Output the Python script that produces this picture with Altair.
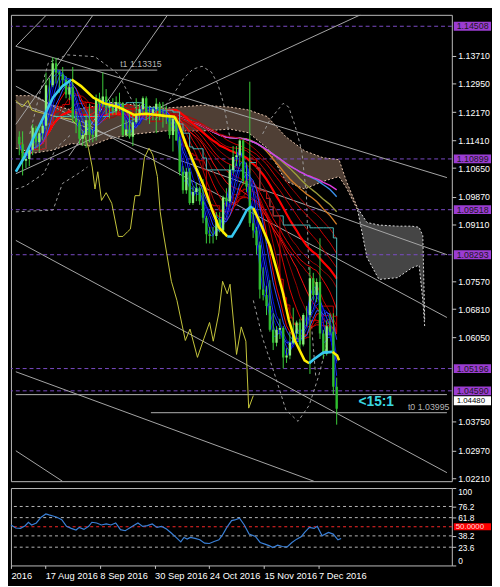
import altair as alt
import pandas as pd

FONT = "Liberation Sans"
W, H, OH = 450, 476, 79

# ---------------- daily EURUSD bars ----------------
dates = ["04 Aug", "05 Aug", "08 Aug", "09 Aug", "10 Aug", "11 Aug", "12 Aug", "15 Aug", "16 Aug", "17 Aug",
         "18 Aug", "19 Aug", "22 Aug", "23 Aug", "24 Aug", "25 Aug", "26 Aug", "29 Aug", "30 Aug", "31 Aug",
         "01 Sep", "02 Sep", "05 Sep", "06 Sep", "07 Sep", "08 Sep", "09 Sep", "12 Sep", "13 Sep", "14 Sep",
         "15 Sep", "16 Sep", "19 Sep", "20 Sep", "21 Sep", "22 Sep", "23 Sep", "26 Sep", "27 Sep", "28 Sep",
         "29 Sep", "30 Sep", "03 Oct", "04 Oct", "05 Oct", "06 Oct", "07 Oct", "10 Oct", "11 Oct", "12 Oct",
         "13 Oct", "14 Oct", "17 Oct", "18 Oct", "19 Oct", "20 Oct", "21 Oct", "24 Oct", "25 Oct", "26 Oct",
         "27 Oct", "28 Oct", "31 Oct", "01 Nov", "02 Nov", "03 Nov", "04 Nov", "07 Nov", "08 Nov", "09 Nov",
         "10 Nov", "11 Nov", "14 Nov", "15 Nov", "16 Nov", "17 Nov", "18 Nov", "21 Nov", "22 Nov", "23 Nov",
         "24 Nov", "25 Nov", "28 Nov", "29 Nov", "30 Nov", "01 Dec", "02 Dec", "05 Dec", "06 Dec", "07 Dec",
         "08 Dec", "09 Dec", "12 Dec", "13 Dec", "14 Dec", "15 Dec"]
opens = [1.1150, 1.1130, 1.1085, 1.1090, 1.1115, 1.1175, 1.1135, 1.1160, 1.1180, 1.1290,
         1.1290, 1.1350, 1.1325, 1.1320, 1.1305, 1.1265, 1.1285, 1.1200, 1.1190, 1.1145,
         1.1155, 1.1195, 1.1155, 1.1150, 1.1255, 1.1240, 1.1260, 1.1230, 1.1235, 1.1220,
         1.1245, 1.1240, 1.1155, 1.1170, 1.1150, 1.1190, 1.1210, 1.1225, 1.1255, 1.1215,
         1.1215, 1.1225, 1.1240, 1.1210, 1.1205, 1.1205, 1.1155, 1.1200, 1.1140, 1.1055,
         1.1005, 1.1055, 1.0970, 1.1000, 1.1010, 1.0975, 1.0930, 1.0885, 1.0880, 1.0880,
         1.0925, 1.0895, 1.0985, 1.0975, 1.1060, 1.1095, 1.1100, 1.1140, 1.1030, 1.1015,
         1.0915, 1.0895, 1.0855, 1.0735, 1.0720, 1.0690, 1.0625, 1.0590, 1.0625, 1.0630,
         1.0550, 1.0555, 1.0590, 1.0615, 1.0645, 1.0585, 1.0665, 1.0665, 1.0765, 1.0720,
         1.0755, 1.0615, 1.0560, 1.0635, 1.0620, 1.0470]
highs = [1.1165, 1.1165, 1.1110, 1.1125, 1.1185, 1.1180, 1.1170, 1.1190, 1.1325, 1.1310,
         1.1366, 1.1365, 1.1330, 1.1340, 1.1315, 1.1300, 1.1340, 1.1220, 1.1195, 1.1165,
         1.1210, 1.1240, 1.1170, 1.1265, 1.1270, 1.1325, 1.1280, 1.1250, 1.1255, 1.1260,
         1.1270, 1.1245, 1.1195, 1.1215, 1.1215, 1.1255, 1.1240, 1.1260, 1.1260, 1.1235,
         1.1230, 1.1255, 1.1245, 1.1245, 1.1235, 1.1210, 1.1200, 1.1205, 1.1150, 1.1070,
         1.1065, 1.1065, 1.1015, 1.1025, 1.1015, 1.1035, 1.0935, 1.0905, 1.0905, 1.0945,
         1.0945, 1.0990, 1.1010, 1.1075, 1.1125, 1.1125, 1.1145, 1.1145, 1.1080, 1.1300,
         1.0955, 1.0905, 1.0865, 1.0795, 1.0745, 1.0760, 1.0670, 1.0635, 1.0655, 1.0635,
         1.0575, 1.0620, 1.0685, 1.0650, 1.0655, 1.0670, 1.0690, 1.0795, 1.0780, 1.0765,
         1.0874, 1.0625, 1.0650, 1.0670, 1.0670, 1.0495]
lows = [1.1100, 1.1045, 1.1065, 1.1070, 1.1100, 1.1120, 1.1110, 1.1140, 1.1170, 1.1245,
        1.1285, 1.1295, 1.1270, 1.1285, 1.1255, 1.1250, 1.1190, 1.1160, 1.1130, 1.1125,
        1.1120, 1.1135, 1.1135, 1.1140, 1.1220, 1.1230, 1.1210, 1.1200, 1.1210, 1.1210,
        1.1220, 1.1150, 1.1150, 1.1145, 1.1125, 1.1185, 1.1195, 1.1210, 1.1195, 1.1185,
        1.1195, 1.1160, 1.1195, 1.1175, 1.1185, 1.1145, 1.1110, 1.1140, 1.1045, 1.0995,
        1.0995, 1.0965, 1.0965, 1.0975, 1.0965, 1.0915, 1.0860, 1.0860, 1.0860, 1.0870,
        1.0890, 1.0885, 1.0960, 1.0970, 1.1050, 1.1070, 1.1070, 1.1020, 1.1000, 1.0905,
        1.0875, 1.0830, 1.0710, 1.0705, 1.0665, 1.0620, 1.0570, 1.0580, 1.0600, 1.0520,
        1.0535, 1.0545, 1.0585, 1.0600, 1.0570, 1.0580, 1.0635, 1.0505, 1.0705, 1.0700,
        1.0600, 1.0545, 1.0555, 1.0610, 1.0450, 1.0367]
closes = [1.1130, 1.1085, 1.1090, 1.1115, 1.1175, 1.1135, 1.1160, 1.1180, 1.1290, 1.1290,
          1.1350, 1.1325, 1.1320, 1.1305, 1.1265, 1.1285, 1.1200, 1.1190, 1.1145, 1.1155,
          1.1195, 1.1155, 1.1150, 1.1255, 1.1240, 1.1260, 1.1230, 1.1235, 1.1220, 1.1245,
          1.1240, 1.1155, 1.1170, 1.1150, 1.1190, 1.1210, 1.1225, 1.1255, 1.1215, 1.1215,
          1.1225, 1.1240, 1.1210, 1.1205, 1.1205, 1.1155, 1.1200, 1.1140, 1.1055, 1.1005,
          1.1055, 1.0970, 1.1000, 1.1010, 1.0975, 1.0930, 1.0885, 1.0880, 1.0880, 1.0925,
          1.0895, 1.0985, 1.0975, 1.1060, 1.1095, 1.1100, 1.1140, 1.1030, 1.1015, 1.0915,
          1.0895, 1.0855, 1.0735, 1.0720, 1.0690, 1.0625, 1.0590, 1.0625, 1.0630, 1.0550,
          1.0555, 1.0590, 1.0615, 1.0645, 1.0585, 1.0665, 1.0665, 1.0765, 1.0720, 1.0755,
          1.0615, 1.0560, 1.0635, 1.0620, 1.0470, 1.0410]
FIRST_BAR = 7  # bar index of 04 Aug 2016 (17 Aug 2016 is bar 16)

# ---------------- scales / ticks ----------------
x_domain = [5.97, 135.0]
price_domain = [1.02132, 1.14819]
price_ticks = [1.13710, 1.12950, 1.12170, 1.11410, 1.10650, 1.09870, 1.09110,
               1.07570, 1.06810, 1.06050, 1.03750, 1.02970, 1.02210]
time_tick_bars = [16, 32, 48, 64, 80, 96]
time_tick_labels = ["17 Aug 2016", "8 Sep 2016", "30 Sep 2016", "24 Oct 2016", "15 Nov 2016", "7 Dec 2016"]

# ---------------- marked price levels ----------------
level_prices = [1.14508, 1.10899, 1.09518, 1.08293, 1.05196, 1.04590]
level_labels = ["1.14508", "1.10899", "1.09518", "1.08293", "1.05196", "1.04590"]
white_level_price = [1.04320]
white_level_label = ["1.04480"]

hline_price = [1.13315, 1.03995, 1.04487]
hline_start = [5.97, 46.4, 5.97]
hline_end = [48.3, 135.0, 135.0]

trend_x1 = [5.97, 5.97, 21.86, 5.97, 5.97, 5.97, 5.97, 5.97, 5.97, 5.97]
trend_y1 = [1.13964, 1.11841, 1.10977, 1.10495, 1.13964, 1.12437, 1.12877, 1.08682, 1.05109, 1.02960]
trend_x2 = [15.17, 29.11, 51.41, 109.11, 135.0, 135.0, 135.0, 135.0, 95.17, 19.91]
trend_y2 = [1.14819, 1.14819, 1.14819, 1.14819, 1.10391, 1.08294, 1.06585, 1.02364, 1.02131, 1.02131]

# ---------------- Ichimoku cloud ----------------
cloud1_bar = [5.97, 11.54, 17.12, 22.69, 28.27, 33.84, 42.21, 50.57, 61.72, 70.08, 75.66, 81.23,
              86.81, 92.38, 97.96, 102.70, 104.93, 108.27]
cloud1_top = [1.1262, 1.1262, 1.1236, 1.1223, 1.1231, 1.1244, 1.1236, 1.1228, 1.1236, 1.1231, 1.1223, 1.1205,
              1.1150, 1.1112, 1.1093, 1.1088, 1.1029, 1.0956]
cloud1_bot = [1.1119, 1.1106, 1.1114, 1.1132, 1.1125, 1.1145, 1.1158, 1.1166, 1.1166, 1.1171, 1.1161, 1.1119,
              1.1029, 1.1008, 1.1029, 1.1042, 1.1011, 1.0951]
cloud2_bar = [108.27, 111.06, 114.68, 120.26, 124.44, 126.67, 127.78, 128.34]
cloud2_top = [1.0956, 1.0917, 1.0910, 1.0907, 1.0907, 1.0904, 1.0881, 1.0653]
cloud2_bot = [1.0951, 1.0822, 1.0762, 1.0767, 1.0793, 1.0801, 1.0705, 1.0635]

# ---------------- dashed envelope curves ----------------
env1_bar = [10.15, 12.94, 15.73, 21.30, 29.66, 36.63, 42.21]
env1_price = [1.1158, 1.1262, 1.1352, 1.1373, 1.1368, 1.1321, 1.1223]
env2_bar = [47.78, 52.52, 56.14, 58.93, 61.72, 64.51, 66.46, 68.13, 70.08]
env2_price = [1.1197, 1.1257, 1.1308, 1.1334, 1.1342, 1.1326, 1.1293, 1.1241, 1.1145]
env3_bar = [79.84, 82.07, 85.97, 87.64, 89.60, 91.55, 92.94, 93.50, 94.33, 95.73]
env3_price = [1.1158, 1.1197, 1.1241, 1.1231, 1.1179, 1.1112, 1.0990, 1.0835, 1.0653, 1.0498]
env4_bar = [77.05, 79.84, 83.18, 86.81, 90.43, 93.78, 96.56, 98.79, 100.19]
env4_price = [1.0705, 1.0602, 1.0511, 1.0407, 1.0376, 1.0420, 1.0498, 1.0576, 1.0653]
env5_bar = [5.97, 8.76, 14.33, 17.96, 22.69]
env5_price = [1.1008, 1.1016, 1.1050, 1.1119, 1.1158]
env6_bar = [5.97, 17.12, 19.91, 24.65, 27.43]
env6_price = [1.0946, 1.0951, 1.1023, 1.1050, 1.1068]

# ---------------- thin yellow indicator ----------------
thin_bar = [5.97, 7.92, 9.59, 10.71, 12.38, 17.96, 22.69, 26.32, 27.71, 28.83, 29.66, 30.50, 31.61, 33.01,
            34.68, 36.63, 38.03, 39.42, 40.26, 41.65, 43.04, 44.44, 45.83, 46.95, 48.34, 49.18, 50.01,
            52.52, 54.19, 56.70, 58.10, 60.33, 62.28, 63.95, 65.06, 66.74, 67.85, 69.25, 70.08, 72.03,
            73.43, 74.82, 75.66, 77.05]
thin_price = [1.1249, 1.1231, 1.1249, 1.1223, 1.1218, 1.1205, 1.1197, 1.1163, 1.1119, 1.1068, 1.1008,
              1.1055, 1.0977, 1.0998, 1.0969, 1.0879, 1.0879, 1.0892, 1.0899, 1.0990, 1.0990, 1.1093,
              1.1119, 1.1101, 1.1042, 1.0946, 1.0894, 1.0757, 1.0705, 1.0596, 1.0627, 1.0550, 1.0602,
              1.0645, 1.0594, 1.0671, 1.0757, 1.0723, 1.0749, 1.0558, 1.0633, 1.0594, 1.0412, 1.0446]

# ---------------- thick colour-changing smoothed line ----------------
cyan1_bar = [5.97, 8.76, 11.54, 14.33, 17.12, 19.91, 22.69]
cyan1_price = [1.1055, 1.1099, 1.1153, 1.1205, 1.1257, 1.1288, 1.1306]
yel1_bar = [22.69, 25.48, 29.11, 32.45, 36.63, 41.37, 45.00, 47.78, 50.57, 53.36, 54.75, 56.98, 59.77,
            62.28, 64.51, 66.74, 69.25]
yel1_price = [1.1306, 1.1288, 1.1257, 1.1241, 1.1231, 1.1210, 1.1213, 1.1210, 1.1207, 1.1205, 1.1184,
              1.1127, 1.1068, 1.1016, 1.0956, 1.0904, 1.0879]
cyan2_bar = [69.25, 70.64, 72.87, 75.10, 76.21, 77.05]
cyan2_price = [1.0879, 1.0879, 1.0912, 1.0951, 1.0959, 1.0956]
yel2_bar = [77.05, 79.28, 82.07, 84.02, 85.97, 87.64, 89.60, 92.38, 93.78]
yel2_price = [1.0956, 1.0912, 1.0853, 1.0790, 1.0723, 1.0653, 1.0594, 1.0542, 1.0534]
cyan3_bar = [93.78, 95.17, 97.96, 100.75]
cyan3_price = [1.0534, 1.0545, 1.0563, 1.0565]
yel3_bar = [100.75, 102.14, 102.70]
yel3_price = [1.0565, 1.0555, 1.0542]

# ---------------- oscillator ----------------
osc_bar = [5.97, 7.36, 8.76, 10.15, 11.08, 12.01, 13.40, 14.80, 16.19, 17.12, 18.51, 19.44, 20.84, 22.23,
           23.62, 25.02, 25.95, 27.34, 28.73, 29.66, 31.06, 32.45, 33.84, 35.24, 36.63, 38.03, 39.42,
           41.28, 43.14, 44.53, 45.92, 47.32, 48.71, 50.10, 51.50, 52.89, 54.29, 55.68, 56.61, 57.54,
           58.47, 59.86, 61.25, 62.65, 64.04, 65.44, 66.83, 67.76, 69.15, 70.55, 71.48, 72.87, 74.26,
           75.66, 77.51, 78.91, 80.30, 81.70, 82.62, 84.02, 85.41, 86.81, 88.20, 89.59, 90.99, 91.92,
           93.31, 94.70, 95.63, 97.03, 97.96, 98.89, 100.28, 101.67, 102.60]
osc_value = [52.3, 48.4, 47.9, 51.4, 55.8, 52.3, 54.9, 62.3, 66.6, 65.3, 63.6, 62.3, 59.2, 50.5, 47.9,
             45.8, 49.2, 46.6, 50.5, 55.8, 54.9, 52.3, 53.6, 52.3, 54.9, 46.2, 44.9, 50.1, 54.9, 50.5,
             51.4, 53.6, 49.2, 50.5, 47.1, 41.9, 36.2, 30.5, 36.2, 34.0, 36.2, 34.9, 33.2, 28.8, 28.4,
             31.0, 33.2, 38.4, 49.2, 57.9, 58.8, 61.0, 52.3, 40.5, 37.5, 29.7, 27.5, 25.3, 23.2, 26.2,
             24.5, 24.0, 29.7, 34.0, 37.5, 42.7, 49.2, 47.9, 50.5, 38.4, 40.5, 42.7, 40.5, 33.2, 34.9]
osc_levels = [23.6, 38.2, 61.8, 76.2]
osc_ticks = [0, 23.6, 38.2, 61.8, 76.2, 100]

# ---------------- frames ----------------
candles = pd.DataFrame(dict(date=dates, open=opens, high=highs, low=lows, close=closes))
candles["bar"] = list(range(FIRST_BAR, FIRST_BAR + len(dates)))

cloud1 = pd.DataFrame(dict(bar=cloud1_bar, top=cloud1_top, bot=cloud1_bot))
cloud2 = pd.DataFrame(dict(bar=cloud2_bar, top=cloud2_top, bot=cloud2_bot))

env_rows = []
for i, (bs, ps) in enumerate([(env1_bar, env1_price), (env2_bar, env2_price), (env3_bar, env3_price),
                              (env4_bar, env4_price), (env5_bar, env5_price), (env6_bar, env6_price)]):
    for j, (b, p) in enumerate(zip(bs, ps)):
        env_rows.append(dict(curve=i, order=j, bar=b, price=p))
env_df = pd.DataFrame(env_rows)

thick_rows = []
for i, (kind, bs, ps) in enumerate([("cyan", cyan1_bar, cyan1_price), ("yellow", yel1_bar, yel1_price),
                                    ("cyan", cyan2_bar, cyan2_price), ("yellow", yel2_bar, yel2_price),
                                    ("cyan", cyan3_bar, cyan3_price), ("yellow", yel3_bar, yel3_price)]):
    for j, (b, p) in enumerate(zip(bs, ps)):
        thick_rows.append(dict(seg=i, kind=kind, order=j, bar=b, price=p))
thick_df = pd.DataFrame(thick_rows)

thin_df = pd.DataFrame(dict(bar=thin_bar, price=thin_price))
levels_df = pd.DataFrame(dict(price=level_prices, label=level_labels))
white_df = pd.DataFrame(dict(price=white_level_price, label=white_level_label))
hline_df = pd.DataFrame(dict(price=hline_price, start=hline_start, end=hline_end))
trend_df = pd.DataFrame(dict(x1=trend_x1, y1=trend_y1, x2=trend_x2, y2=trend_y2))
osc_df = pd.DataFrame(dict(bar=osc_bar, value=osc_value))

# ---------------- encodings ----------------
xs = alt.Scale(domain=x_domain, nice=False, zero=False)
ys = alt.Scale(domain=price_domain, nice=False, zero=False)
price_axis = alt.Axis(orient="right", values=price_ticks, format=".5f", labelColor="#ffffff", labelFont=FONT,
                      labelFontSize=9, tickColor="#c8c8c8", tickSize=4, domain=False, grid=False,
                      labelPadding=2, labelFlush=False, zindex=0, title=None)


def X(f):
    return alt.X(f, type="quantitative", scale=xs, axis=None)


def Y(f):
    return alt.Y(f, type="quantitative", scale=ys, axis=price_axis)


layers = []

# cloud
for cdf, fill, op, edge in [(cloud1, "#f0c0a0", 0.33, "#e8c8b0"), (cloud2, "#e6e6e6", 0.3, "#dddddd")]:
    layers.append(alt.Chart(cdf).mark_area(color=fill, opacity=op, clip=True).encode(
        x=X("bar"), y=Y("top"), y2=alt.Y2("bot")))
    for col in ["top", "bot"]:
        layers.append(alt.Chart(cdf).mark_line(color=edge, strokeDash=[2, 2], strokeWidth=1, clip=True).encode(
            x=X("bar"), y=Y(col)))

# purple dashed levels
layers.append(alt.Chart(levels_df).mark_rule(color="#7c4cc8", strokeDash=[4, 3], strokeWidth=1).encode(
    y=Y("price")))
# gray horizontal lines and trend lines
layers.append(alt.Chart(hline_df).mark_rule(color="#b4b4b4", strokeWidth=1, clip=True).encode(
    x=X("start"), x2=alt.X2("end"), y=Y("price")))
layers.append(alt.Chart(trend_df).mark_rule(color="#a8a8a8", strokeWidth=1, clip=True).encode(
    x=X("x1"), x2=alt.X2("x2"), y=Y("y1"), y2=alt.Y2("y2")))
# dashed envelopes
layers.append(alt.Chart(env_df).mark_line(color="#a0a0a0", strokeDash=[3, 3], strokeWidth=1, clip=True).encode(
    x=X("bar"), y=Y("price"), detail="curve:N", order="order:Q"))
# thin yellow line
layers.append(alt.Chart(thin_df).mark_line(color="#c8c83c", strokeWidth=1, clip=True).encode(
    x=X("bar"), y=Y("price")))

# moving averages computed from the closes
base = alt.Chart(candles)
sort_bar = [alt.SortField("bar")]


def ma_chart(periods, colors, width, prefix):
    ch = base
    names = []
    for p in periods:
        n = f"{prefix}{p}"
        names.append(n)
        ch = ch.transform_window(**{n: "mean(close)"}, frame=[-(p - 1), 0], sort=sort_bar)
    return ch.transform_fold(names, as_=["ma", "value"]).mark_line(strokeWidth=width, clip=True).encode(
        x=X("bar"), y=Y("value:Q"),
        color=alt.Color("ma:N", scale=alt.Scale(domain=names, range=colors), legend=None))


long_periods = [66, 74, 86, 100]
long_colors = ["#d07a24", "#9c9c3a", "#3a8ee8", "#e03ce0"]
layers.append(ma_chart(long_periods, long_colors, 1.4, "lg"))

red_periods = [9, 12, 15, 18, 21, 25, 29, 34, 40, 46, 52, 58]
red_colors = ["#ff0000", "#b00000", "#e00000", "#9a0000", "#ff1010", "#c00000",
              "#e80000", "#a00000", "#ff0000", "#c00000", "#d80000", "#a80000"]
layers.append(ma_chart(red_periods, red_colors, 1.0, "rd"))
layers.append(base.transform_window(rd40b="mean(close)", frame=[-39, 0], sort=sort_bar)
              .mark_line(color="#ff0000", strokeWidth=2.2, clip=True).encode(x=X("bar"), y=Y("rd40b:Q")))

# kijun (26) and tenkan (9)
layers.append(base.transform_window(hh="max(high)", ll="min(low)", frame=[-25, 0], sort=sort_bar)
              .transform_calculate(kijun="(datum.hh + datum.ll) / 2")
              .mark_line(color="#4cbcbc", strokeWidth=1, interpolate="step-after", clip=True)
              .encode(x=X("bar"), y=Y("kijun:Q")))
layers.append(base.transform_window(th="max(high)", tl="min(low)", frame=[-8, 0], sort=sort_bar)
              .transform_calculate(tenkan="(datum.th + datum.tl) / 2")
              .mark_line(color="#c80000", strokeWidth=1, interpolate="step-after", clip=True)
              .encode(x=X("bar"), y=Y("tenkan:Q")))

# short blue MAs
blue_periods = [2, 3, 4, 5, 6, 8]
blue_colors = ["#0000ff", "#1428ff", "#0000d0", "#2040ff", "#0010e0", "#3050ff"]
layers.append(ma_chart(blue_periods, blue_colors, 1.0, "bl"))

# candles
layers.append(base.mark_rule(color="#3ccf3c", strokeWidth=1, clip=True).encode(
    x=X("bar"), y=Y("low:Q"), y2=alt.Y2("high")))
layers.append(base.mark_bar(size=2.4, clip=True).encode(
    x=X("bar"), y=Y("open:Q"), y2=alt.Y2("close"),
    color=alt.condition("datum.close >= datum.open", alt.value("#8af07a"), alt.value("#2fbf2f"))))

# thick smoothed line
layers.append(alt.Chart(thick_df).mark_line(strokeWidth=2.6, clip=True).encode(
    x=X("bar"), y=Y("price"), detail="seg:N", order="order:Q",
    color=alt.Color("kind:N", scale=alt.Scale(domain=["cyan", "yellow"], range=["#38c8f0", "#ffee00"]),
                    legend=None)))

# annotations
ann_df = pd.DataFrame(dict(bar=[37.19, 123.32], price=[1.13315, 1.03995], label=["t1 1.13315", "t0 1.03995"]))
layers.append(alt.Chart(ann_df).mark_text(align="left", baseline="bottom", dy=-1, color="#b4b4b4",
                                          font=FONT, fontSize=9).encode(x=X("bar"), y=Y("price"), text="label:N"))
ratio_df = pd.DataFrame(dict(bar=[108.55], price=[1.04279], label=["<15:1"]))
layers.append(alt.Chart(ratio_df).mark_text(align="left", baseline="middle", color="#3ad8e0", font=FONT,
                                            fontSize=14, fontWeight="bold").encode(
    x=X("bar"), y=Y("price"), text="label:N"))

# price level label boxes on the axis
for df_, bg, fg, fs in [(white_df, "#ffffff", "#000000", 8), (levels_df, "#9b3cd2", "#1a1a1a", 9)]:
    layers.append(alt.Chart(df_).transform_calculate(lo="datum.price - 0.0012", hi="datum.price + 0.0012")
                  .mark_rect(color=bg).encode(x=alt.value(W + 2), x2=alt.value(W + 40),
                                              y=Y("lo:Q"), y2=alt.Y2("hi:Q")))
    layers.append(alt.Chart(df_).mark_text(align="left", baseline="middle", color=fg, font=FONT, fontSize=fs)
                  .encode(x=alt.value(W + 5), y=Y("price"), text="label:N"))

main = alt.layer(*layers).properties(width=W, height=H).resolve_scale(color="independent")

# ---------------- oscillator panel ----------------
oxs = alt.Scale(domain=x_domain, nice=False, zero=False)
oys = alt.Scale(domain=[0, 100], nice=False, zero=False)
label_expr = "datum.value < 10 ? '2016' : " + " : ".join(
    f"datum.value == {b} ? '{l}'" for b, l in zip(time_tick_bars, time_tick_labels)) + " : ''"
time_axis = alt.Axis(values=[5.97] + time_tick_bars, labelExpr=label_expr, labelColor="#ffffff", labelFont=FONT,
                     labelFontSize=9.5, labelAlign="left", labelFlush=False, labelOverlap=False, tickColor="#c8c8c8",
                     tickSize=3, domain=False, grid=False, labelPadding=2, title=None)
osc_axis = alt.Axis(orient="right", values=osc_ticks, format=".1~f", labelColor="#ffffff", labelFont=FONT,
                    labelFontSize=8.5, tickColor="#c8c8c8", tickSize=4, domain=False, grid=False,
                    labelPadding=2, labelFlush=True, zindex=0, title=None)


def OX(f):
    return alt.X(f, type="quantitative", scale=oxs, axis=time_axis)


def OY(f):
    return alt.Y(f, type="quantitative", scale=oys, axis=osc_axis)


olev_df = pd.DataFrame(dict(level=osc_levels))
mid_df = pd.DataFrame(dict(level=[50], label=["50.0000"]))
osc_layers = [
    alt.Chart(olev_df).mark_rule(color="#b8b8b8", strokeDash=[3, 3], strokeWidth=1).encode(y=OY("level")),
    alt.Chart(mid_df).mark_rule(color="#ff2828", strokeDash=[3, 3], strokeWidth=1).encode(y=OY("level")),
    alt.Chart(osc_df).mark_line(color="#3a80d8", strokeWidth=1.2).encode(x=OX("bar"), y=OY("value")),
    alt.Chart(mid_df).transform_calculate(lo="datum.level - 4.6", hi="datum.level + 4.6")
    .mark_rect(color="#ff0000").encode(x=alt.value(W + 2), x2=alt.value(W + 40), y=OY("lo:Q"), y2=alt.Y2("hi:Q")),
    alt.Chart(mid_df).mark_text(align="left", baseline="middle", color="#ffd8d8", font=FONT, fontSize=8)
    .encode(x=alt.value(W + 4), y=OY("level"), text="label:N"),
]
osc = alt.layer(*osc_layers).properties(width=W, height=OH)

chart = (alt.vconcat(main, osc, spacing=3)
         .properties(background="#000000", padding=0)
         .configure_view(stroke="#bdbdbd", strokeWidth=1))

chart.save("out.html", embed_options={"renderer": "svg", "actions": False})
